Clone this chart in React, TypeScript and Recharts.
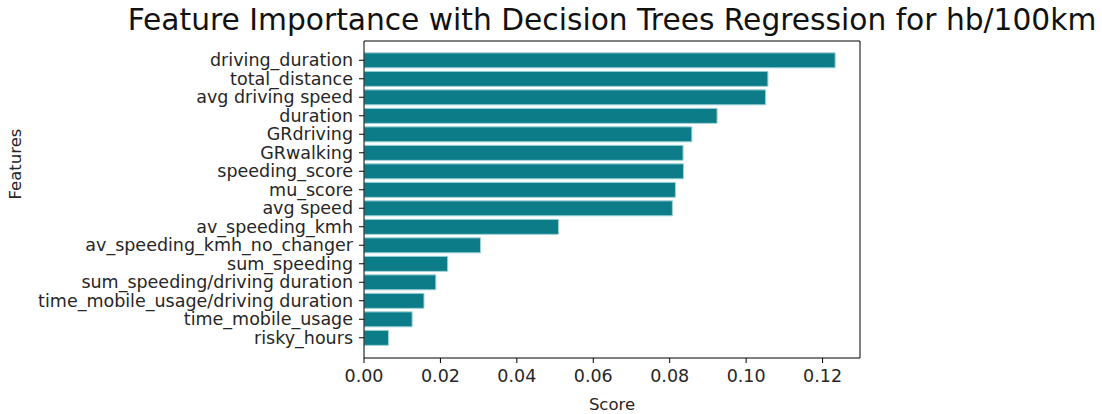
import { BarChart, Bar, XAxis, YAxis, Label, CartesianGrid } from 'recharts';

const features = [
  'driving_duration',
  'total_distance',
  'avg driving speed',
  'duration',
  'GRdriving',
  'GRwalking',
  'speeding_score',
  'mu_score',
  'avg speed',
  'av_speeding_kmh',
  'av_speeding_kmh_no_changer',
  'sum_speeding',
  'sum_speeding/driving duration',
  'time_mobile_usage/driving duration',
  'time_mobile_usage',
  'risky_hours',
];

const scores = [
  0.1233, 0.1057, 0.1051, 0.0924, 0.0858, 0.0835, 0.0836, 0.0815,
  0.0807, 0.0509, 0.0305, 0.0219, 0.0188, 0.0157, 0.0126, 0.0064,
];

const xTicks = [0, 0.02, 0.04, 0.06, 0.08, 0.1, 0.12];

const data = features.map((feature, i) => ({ feature, score: scores[i] }));

const FONT = '"DejaVu Sans", sans-serif';
const TEXT = '#262626';

export default function App() {
  return (
    <div style={{ position: 'absolute', left: 0, top: 0, width: 1102, height: 414, background: '#fff' }}>
      <div
        style={{
          position: 'absolute',
          left: 0,
          width: 1224,
          top: 2,
          textAlign: 'center',
          fontFamily: FONT,
          fontSize: 29.7,
          color: '#111',
          whiteSpace: 'nowrap',
        }}
      >
        Feature Importance with Decision Trees Regression for hb/100km
      </div>
      <BarChart
        width={1102}
        height={414}
        data={data}
        layout="vertical"
        margin={{ top: 40, right: 241, bottom: 0, left: 0 }}
        barCategoryGap="10%"
        style={{ fontFamily: FONT }}
      >
        <CartesianGrid horizontal={false} vertical={false} stroke="#000" />
        <XAxis
          type="number"
          dataKey="score"
          domain={[0, 0.1298]}
          ticks={xTicks}
          allowDataOverflow
          tickFormatter={(v: number) => v.toFixed(2)}
          height={56}
          tickSize={5}
          tickMargin={7}
          tickLine={{ stroke: '#000' }}
          axisLine={{ stroke: '#000' }}
          tick={{ fill: TEXT, fontSize: 17.5 }}
        >
          <Label value="Score" position="insideBottom" offset={0} fill={TEXT} fontSize={16.5} dy={-4} />
        </XAxis>
        {/* top and right axes only draw the box frame */}
        <XAxis
          xAxisId="top"
          type="number"
          orientation="top"
          domain={[0, 0.1298]}
          height={1}
          tick={false}
          tickLine={false}
          axisLine={{ stroke: '#000' }}
        />
        <YAxis
          type="category"
          dataKey="feature"
          width={364}
          interval={0}
          padding={{ top: 10, bottom: 11 }}
          tickSize={5}
          tickMargin={6}
          tickLine={{ stroke: '#000' }}
          axisLine={{ stroke: '#000' }}
          tick={{ fill: TEXT, fontSize: 17.5 }}
        >
          <Label value="Features" angle={-90} position="insideLeft" offset={15} fill={TEXT} fontSize={16.5} />
        </YAxis>
        <YAxis
          yAxisId="right"
          type="category"
          dataKey="feature"
          orientation="right"
          width={1}
          tick={false}
          tickLine={false}
          axisLine={{ stroke: '#000' }}
        />
        <Bar
          dataKey="score"
          fill="#0b7c88"
          stroke="#9fd3d9"
          strokeWidth={1}
          isAnimationActive={false}
        />
      </BarChart>
    </div>
  );
}
